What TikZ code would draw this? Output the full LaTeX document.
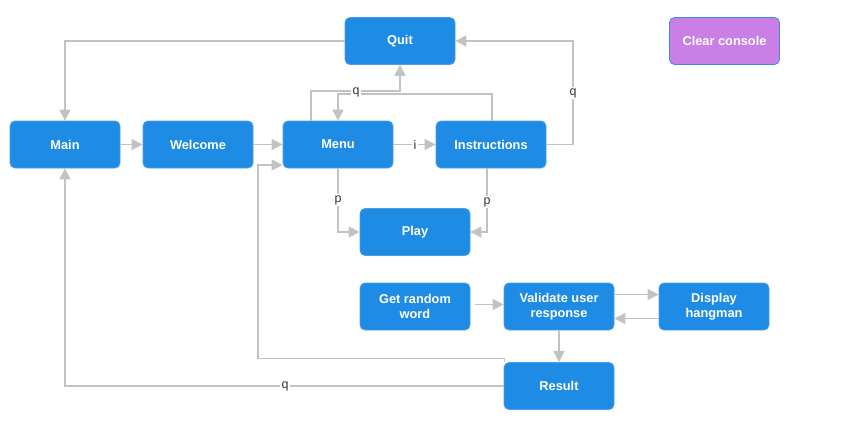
\documentclass[tikz,border=0pt]{standalone}
\usepackage{fontspec}
\setmainfont{Liberation Sans}
\usetikzlibrary{arrows.meta}
\definecolor{boxblue}{HTML}{1E8BE5}
\definecolor{boxedge}{HTML}{4A9FE8}
\definecolor{boxpurple}{HTML}{C97FE6}
\definecolor{purpleedge}{HTML}{3A8CE2}
\definecolor{linkgray}{HTML}{C2C2C2}
\definecolor{labeltxt}{HTML}{333333}
\begin{document}
\begin{tikzpicture}[x=1pt,y=-1pt,
  box/.style={draw=boxedge, fill=boxblue, rounded corners=5pt, minimum width=110pt, minimum height=47pt,
    text=white, font=\bfseries\fontsize{12.8}{15}\selectfont, align=center, inner sep=0pt, line width=0.8pt},
  link/.style={draw=linkgray, line width=1.2pt, -{Triangle[length=11pt,width=11pt]}},
  lbl/.style={fill=white, inner sep=1.2pt, font=\fontsize{12.5}{14}\selectfont, text=labeltxt}]
\useasboundingbox[fill=white] (0,0) rectangle (845,429);
% nodes
\node[box] (quit) at (400,41) {Quit};
\node[box, fill=boxpurple, draw=purpleedge] (clear) at (724.5,41) {Clear console};
\node[box] (main) at (65,144.5) {Main};
\node[box] (welcome) at (198,144.5) {Welcome};
\node[box] (menu) at (338,144.5) {Menu};
\node[box] (instr) at (491,144.5) {Instructions};
\node[box] (play) at (415,232) {Play};
\node[box] (get) at (415,306.5) {Get random\\word};
\node[box] (valid) at (559,306.5) {Validate user\\response};
\node[box] (disp) at (714,306.5) {Display\\hangman};
\node[box] (result) at (559,386) {Result};
% helper coordinates
\coordinate (mq) at (400,91);
\coordinate (im) at (338,94);
\coordinate (iq) at (573,144.5);
\coordinate (rm) at (258,165);
% connectors
\draw[link] (quit.west) -| (main.north);
\draw[link] (main) -- (welcome);
\draw[link] (welcome) -- (menu);
\draw[link] ([xshift=-27pt]menu.north) |- (mq) -- (quit.south);
\draw[link] ([xshift=1pt]instr.north) |- (im) -- (menu.north);
\draw[link] (menu) -- (instr);
\draw[link] (instr.east) -- (iq) |- (quit.east);
\draw[link] (menu.south) |- (play.west);
\draw[link] ([xshift=-4pt]instr.south) |- (play.east);
\draw[link] ([xshift=5pt,yshift=2pt]get.east) -- ([yshift=2pt]valid.west);
\draw[link] ([yshift=12pt]valid.east) -- ([yshift=12pt]disp.west);
\draw[link] ([yshift=-12pt]disp.west) -- ([yshift=-12pt]valid.east);
\draw[link] (valid) -- (result);
\draw[link] ([xshift=1pt]result.north west) -- ++(0,-4) -| (rm) -- (rm -| menu.west);
\draw[link] (result.west) -| (main.south);
% labels
\node[lbl] (lq1) at (356,92) {q};
\node[lbl] (lq2) at (573,93) {q};
\node[lbl] (li) at (415,144.5) {i};
\node[lbl] (lp1) at (338,200) {p};
\node[lbl] (lp2) at (487,202) {p};
\node[lbl] (lq3) at (285,386) {q};
\end{tikzpicture}
\end{document}
